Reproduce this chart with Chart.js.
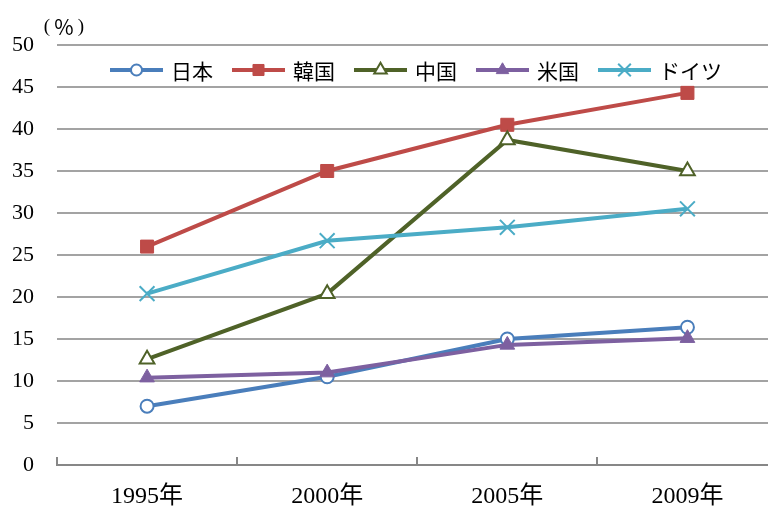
<!DOCTYPE html>
<html>
<head>
<meta charset="utf-8">
<script src="https://cdn.jsdelivr.net/npm/chart.js@4/dist/chart.umd.min.js"></script>
<style>
  html, body { margin: 0; padding: 0; background: #fff; overflow: hidden; }
  #wrap { width: 790px; height: 506px; }
</style>
</head>
<body>
<div id="wrap"><canvas id="c" width="790" height="506"></canvas></div>
<script>
// Categories and series (%)
const years = ['1995年', '2000年', '2005年', '2009年'];
const japan   = [7.0, 10.5, 15.0, 16.4];
const korea   = [26.0, 35.0, 40.5, 44.3];
const china   = [12.6, 20.4, 38.7, 35.0];
const usa     = [10.4, 11.0, 14.3, 15.1];
const germany = [20.4, 26.7, 28.3, 30.5];
const unitParts = ['(', '%', ')'];

const serif = '"Liberation Serif", "Noto Sans CJK JP", serif';
const gothic = '"Noto Sans CJK JP", "Noto Sans", sans-serif';

function series(label, data, color, style, radius, fill, borderW, order) {
  return {
    label, data, order,
    borderColor: color,
    backgroundColor: fill,
    borderWidth: 4,
    pointStyle: style,
    pointRadius: radius,
    pointHoverRadius: radius,
    pointBorderColor: color,
    pointBackgroundColor: fill,
    pointBorderWidth: borderW,
    tension: 0
  };
}

const datasets = [
  series('日本',  japan,   '#4a7ebb', 'circle',    6.5,  '#ffffff', 2,   5),
  series('韓国',  korea,   '#be4b48', 'rect',      9.2,  '#be4b48', 1,   4),
  series('中国',  china,   '#4f6228', 'triangle',  8.5,  '#ffffff', 2,   3),
  series('米国',  usa,     '#7d60a0', 'triangle',  8.5,  '#7d60a0', 1,   2),
  series('ドイツ', germany, '#4bacc6', 'crossRot', 10.5, '#4bacc6', 2,   1)
];

// Legend: a line segment with the series marker, followed by the name
const lineLegend = {
  id: 'lineLegend',
  afterDraw(chart) {
    const ctx = chart.ctx;
    let x = 110;
    const y = 70;
    ctx.save();
    ctx.font = '21px ' + gothic;
    ctx.textBaseline = 'middle';
    chart.data.datasets.forEach(ds => {
      ctx.strokeStyle = ds.borderColor;
      ctx.lineWidth = 4;
      ctx.beginPath();
      ctx.moveTo(x, y);
      ctx.lineTo(x + 53, y);
      ctx.stroke();
      ctx.fillStyle = ds.pointBackgroundColor;
      ctx.strokeStyle = ds.pointBorderColor;
      ctx.lineWidth = ds.pointBorderWidth;
      Chart.helpers.drawPoint(ctx, {
        pointStyle: ds.pointStyle,
        radius: ds.pointRadius * 0.85,
        borderWidth: ds.pointBorderWidth,
        rotation: 0
      }, x + 26.5, y);
      ctx.fillStyle = '#000';
      ctx.fillText(ds.label, x + 61, y + 1);
      x += 61 + ctx.measureText(ds.label).width + 19;
    });
    ctx.restore();
  }
};

// Unit caption above the value axis, and short inward tick marks on the category axis
const axisExtras = {
  id: 'axisExtras',
  afterDraw(chart) {
    const ctx = chart.ctx;
    const xs = chart.scales.x;
    const area = chart.chartArea;
    ctx.save();
    ctx.fillStyle = '#000';
    ctx.textBaseline = 'middle';
    ctx.textAlign = 'center';
    ctx.font = '19px ' + serif;
    ctx.fillText(unitParts[0], 47, 27);
    ctx.fillText(unitParts[2], 81, 27);
    ctx.font = '21px ' + gothic;
    ctx.fillText(unitParts[1], 64, 27);

    const step = xs.getPixelForValue(1) - xs.getPixelForValue(0);
    ctx.strokeStyle = '#878787';
    ctx.lineWidth = 2;
    for (let i = 0; i <= years.length; i++) {
      const px = Math.round(xs.getPixelForValue(0) + (i - 0.5) * step);
      ctx.beginPath();
      ctx.moveTo(px, area.bottom);
      ctx.lineTo(px, area.bottom - 8);
      ctx.stroke();
    }
    ctx.restore();
  }
};

new Chart(document.getElementById('c'), {
  type: 'line',
  data: { labels: years, datasets },
  options: {
    responsive: false,
    animation: false,
    devicePixelRatio: 1,
    layout: { padding: { top: 45, right: 12, left: 0, bottom: 0 } },
    plugins: {
      legend: { display: false },
      tooltip: { enabled: false }
    },
    scales: {
      x: {
        offset: true,
        grid: { display: false, drawTicks: false },
        border: { display: true, color: '#878787', width: 2 },
        ticks: { color: '#000', font: { family: serif, size: 24 }, padding: 17, maxRotation: 0 },
        afterFit(scale) { scale.height = 41; }
      },
      y: {
        min: 0, max: 50,
        ticks: { stepSize: 5, color: '#000', font: { family: serif, size: 22 }, padding: 23 },
        grid: {
          drawTicks: false,
          color: ctx => ctx.tick && ctx.tick.value === 0 ? 'rgba(0,0,0,0)' : '#a3a3a3',
          lineWidth: 2
        },
        border: { display: false },
        afterFit(scale) { scale.width = 57; }
      }
    }
  },
  plugins: [lineLegend, axisExtras]
});
</script>
</body>
</html>
